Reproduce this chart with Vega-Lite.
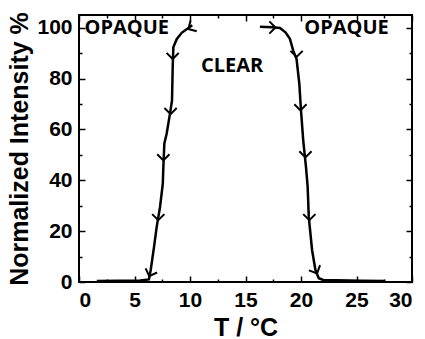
{
  "$schema": "https://vega.github.io/schema/vega-lite/v6.json",
  "width": 333,
  "height": 267,
  "autosize": {"type": "none"},
  "padding": {"left": 79, "top": 15, "right": 13, "bottom": 57},
  "background": "white",
  "config": {
    "view": {"stroke": "black", "strokeWidth": 2},
    "axis": {
      "zindex": 1,
      "domain": false,
      "grid": false,
      "ticks": true,
      "tickSize": -6,
      "tickWidth": 1.5,
      "tickColor": "black",
      "labelFont": "Liberation Sans",
      "labelFontWeight": "bold",
      "labelFontSize": 21,
      "labelColor": "black",
      "titleFont": "Liberation Sans",
      "titleFontWeight": "bold",
      "titleFontSize": 25,
      "titleColor": "black"
    }
  },
  "datasets": {
    "curves": [
      {"series": "cooling", "i": 0, "T": 10.2, "I": 101},
      {"series": "cooling", "i": 1, "T": 9.25, "I": 98},
      {"series": "cooling", "i": 2, "T": 8.8, "I": 95.5},
      {"series": "cooling", "i": 3, "T": 8.5, "I": 92.3},
      {"series": "cooling", "i": 4, "T": 8.44, "I": 84.4},
      {"series": "cooling", "i": 5, "T": 8.38, "I": 71.4},
      {"series": "cooling", "i": 6, "T": 8.2, "I": 66.3},
      {"series": "cooling", "i": 7, "T": 7.9, "I": 58.4},
      {"series": "cooling", "i": 8, "T": 7.69, "I": 54.5},
      {"series": "cooling", "i": 9, "T": 7.6, "I": 45.2},
      {"series": "cooling", "i": 10, "T": 7.55, "I": 38.7},
      {"series": "cooling", "i": 11, "T": 7.3, "I": 29.5},
      {"series": "cooling", "i": 12, "T": 7.0, "I": 21.7},
      {"series": "cooling", "i": 13, "T": 6.76, "I": 13.8},
      {"series": "cooling", "i": 14, "T": 6.46, "I": 4.7},
      {"series": "cooling", "i": 15, "T": 6.3, "I": 1.0},
      {"series": "cooling", "i": 16, "T": 5.5, "I": 0.6},
      {"series": "cooling", "i": 17, "T": 3.5, "I": 0.5},
      {"series": "cooling", "i": 18, "T": 1.6, "I": 0.4},
      {"series": "heating", "i": 0, "T": 16.3, "I": 100.4},
      {"series": "heating", "i": 1, "T": 17.4, "I": 100.2},
      {"series": "heating", "i": 2, "T": 18.1, "I": 99.9},
      {"series": "heating", "i": 3, "T": 18.6, "I": 98.2},
      {"series": "heating", "i": 4, "T": 19.0, "I": 95.6},
      {"series": "heating", "i": 5, "T": 19.3, "I": 91},
      {"series": "heating", "i": 6, "T": 19.6, "I": 87.7},
      {"series": "heating", "i": 7, "T": 19.85, "I": 77.9},
      {"series": "heating", "i": 8, "T": 20.0, "I": 67.5},
      {"series": "heating", "i": 9, "T": 20.2, "I": 55.7},
      {"series": "heating", "i": 10, "T": 20.45, "I": 45.2},
      {"series": "heating", "i": 11, "T": 20.6, "I": 37.4},
      {"series": "heating", "i": 12, "T": 20.7, "I": 25.6},
      {"series": "heating", "i": 13, "T": 21.0, "I": 12.5},
      {"series": "heating", "i": 14, "T": 21.3, "I": 4.7},
      {"series": "heating", "i": 15, "T": 21.6, "I": 1.5},
      {"series": "heating", "i": 16, "T": 22.0, "I": 0.8},
      {"series": "heating", "i": 17, "T": 25.5, "I": 0.5},
      {"series": "heating", "i": 18, "T": 27.6, "I": 0.4}
    ],
    "arrows": [
      {"T": 9.85, "I": 99.5, "dir": "downleft"},
      {"T": 8.44, "I": 87.7, "dir": "down"},
      {"T": 8.25, "I": 66, "dir": "down"},
      {"T": 7.6, "I": 47.8, "dir": "down"},
      {"T": 7.14, "I": 24.3, "dir": "down"},
      {"T": 6.33, "I": 2.3, "dir": "downleftsteep"},
      {"T": 17.7, "I": 100.1, "dir": "right"},
      {"T": 19.6, "I": 88.5, "dir": "down"},
      {"T": 19.95, "I": 67.5, "dir": "down"},
      {"T": 20.4, "I": 49, "dir": "down"},
      {"T": 20.75, "I": 24.3, "dir": "down"},
      {"T": 21.45, "I": 3.4, "dir": "downright"}
    ],
    "labels": [
      {"T": 4.3, "I": 100, "text": "OPAQUE"},
      {"T": 13.8, "I": 85, "text": "CLEAR"},
      {"T": 24.1, "I": 100, "text": "OPAQUE"}
    ]
  },
  "resolve": {"axis": {"x": "independent", "y": "independent"}},
  "layer": [
    {
      "data": {"name": "curves"},
      "mark": {"type": "line", "color": "black", "strokeWidth": 2.5},
      "encoding": {
        "x": {
          "field": "T", "type": "quantitative",
          "scale": {"domain": [0, 30], "nice": false},
          "axis": {
            "orient": "bottom",
            "title": "T / °C",
            "values": [0, 2.5, 5, 7.5, 10, 12.5, 15, 17.5, 20, 22.5, 25, 27.5, 30],
            "labelExpr": "datum.value % 5 == 0 ? format(datum.value, 'd') : ''",
            "tickDash": {"condition": {"test": "datum.value % 5 != 0", "value": [3, 20]}, "value": [20, 0]},
            "labelPadding": 13,
            "titlePadding": 5
          }
        },
        "y": {
          "field": "I", "type": "quantitative",
          "scale": {"domain": [0, 105], "nice": false},
          "axis": {
            "orient": "left",
            "title": "Normalized Intensity %",
            "values": [0, 10, 20, 30, 40, 50, 60, 70, 80, 90, 100],
            "labelExpr": "datum.value % 20 == 0 ? format(datum.value, 'd') : ''",
            "tickDash": {"condition": {"test": "datum.value % 20 != 0", "value": [3, 20]}, "value": [20, 0]},
            "labelPadding": 13,
            "titlePadding": 4
          }
        },
        "detail": {"field": "series"},
        "order": {"field": "i", "type": "quantitative"}
      }
    },
    {
      "data": {"name": "curves"},
      "mark": {"type": "point", "opacity": 0},
      "encoding": {
        "x": {
          "field": "T", "type": "quantitative",
          "axis": {
            "orient": "top", "title": null, "labels": false,
            "values": [0, 2.5, 5, 7.5, 10, 12.5, 15, 17.5, 20, 22.5, 25, 27.5, 30],
            "tickDash": {"condition": {"test": "datum.value % 5 != 0", "value": [3, 20]}, "value": [20, 0]}
          }
        },
        "y": {
          "field": "I", "type": "quantitative",
          "axis": {
            "orient": "right", "title": null, "labels": false,
            "values": [0, 10, 20, 30, 40, 50, 60, 70, 80, 90, 100],
            "tickDash": {"condition": {"test": "datum.value % 20 != 0", "value": [3, 20]}, "value": [20, 0]}
          }
        }
      }
    },
    {
      "data": {"name": "arrows"},
      "transform": [{"filter": "datum.dir == 'down'"}],
      "mark": {"type": "point", "shape": "M -1 -1 L 0 0 L -1 1", "filled": false, "stroke": "black", "strokeWidth": 2, "size": 150, "opacity": 1, "angle": 90},
      "encoding": {
        "x": {"field": "T", "type": "quantitative", "axis": null},
        "y": {"field": "I", "type": "quantitative", "axis": null}
      }
    },
    {
      "data": {"name": "arrows"},
      "transform": [{"filter": "datum.dir == 'right'"}],
      "mark": {"type": "point", "shape": "M -1 -1 L 0 0 L -1 1", "filled": false, "stroke": "black", "strokeWidth": 2, "size": 150, "opacity": 1, "angle": 0},
      "encoding": {
        "x": {"field": "T", "type": "quantitative", "axis": null},
        "y": {"field": "I", "type": "quantitative", "axis": null}
      }
    },
    {
      "data": {"name": "arrows"},
      "transform": [{"filter": "datum.dir == 'downleft'"}],
      "mark": {"type": "point", "shape": "M -1 -1 L 0 0 L -1 1", "filled": false, "stroke": "black", "strokeWidth": 2, "size": 150, "opacity": 1, "angle": 150},
      "encoding": {
        "x": {"field": "T", "type": "quantitative", "axis": null},
        "y": {"field": "I", "type": "quantitative", "axis": null}
      }
    },
    {
      "data": {"name": "arrows"},
      "transform": [{"filter": "datum.dir == 'downleftsteep'"}],
      "mark": {"type": "point", "shape": "M -1 -1 L 0 0 L -1 1", "filled": false, "stroke": "black", "strokeWidth": 2, "size": 150, "opacity": 1, "angle": 110},
      "encoding": {
        "x": {"field": "T", "type": "quantitative", "axis": null},
        "y": {"field": "I", "type": "quantitative", "axis": null}
      }
    },
    {
      "data": {"name": "arrows"},
      "transform": [{"filter": "datum.dir == 'downright'"}],
      "mark": {"type": "point", "shape": "M -1 -1 L 0 0 L -1 1", "filled": false, "stroke": "black", "strokeWidth": 2, "size": 150, "opacity": 1, "angle": 65},
      "encoding": {
        "x": {"field": "T", "type": "quantitative", "axis": null},
        "y": {"field": "I", "type": "quantitative", "axis": null}
      }
    },
    {
      "data": {"name": "labels"},
      "mark": {
        "type": "text",
        "font": "Open Sans",
        "fontWeight": "bold",
        "fontSize": 20,
        "color": "black",
        "align": "center",
        "baseline": "middle"
      },
      "encoding": {
        "x": {"field": "T", "type": "quantitative", "axis": null},
        "y": {"field": "I", "type": "quantitative", "axis": null},
        "text": {"field": "text"}
      }
    }
  ]
}
